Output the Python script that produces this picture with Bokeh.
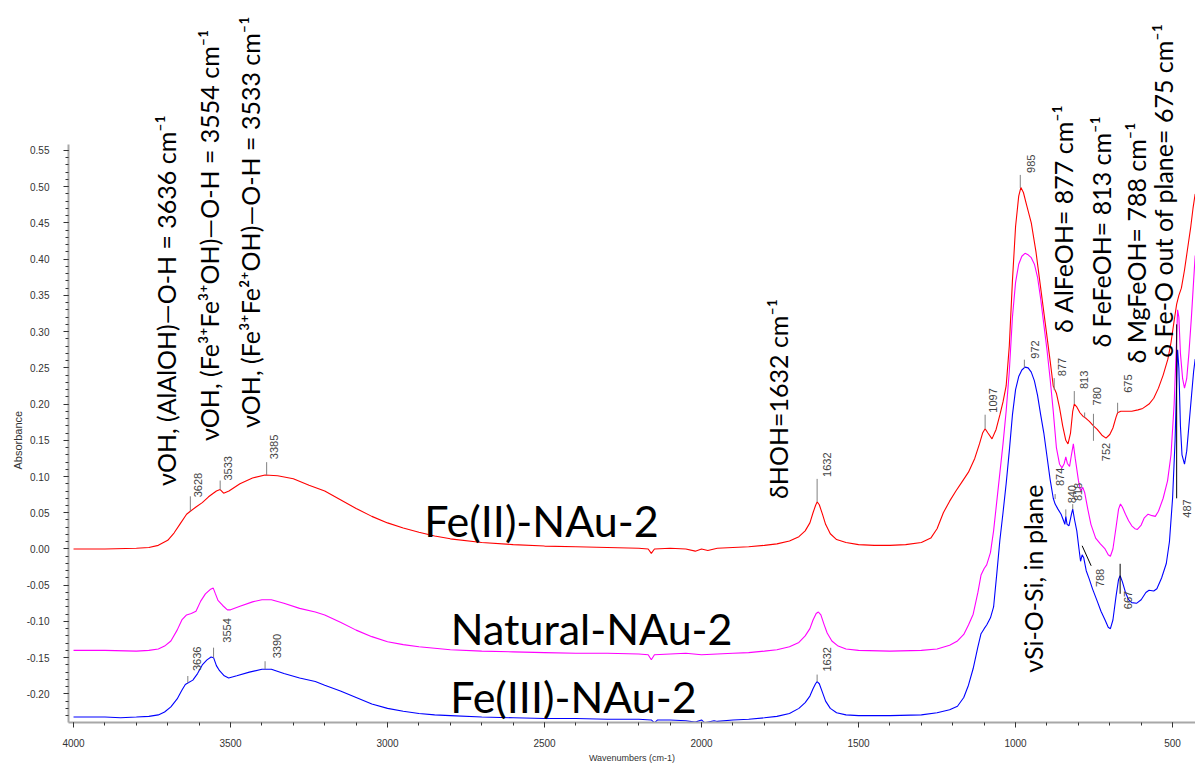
import numpy as np
from bokeh.plotting import figure
from bokeh.models import (Range1d, SingleIntervalTicker, NumeralTickFormatter,
                          ColumnDataSource, Title)
from bokeh.core.properties import value
from bokeh.embed import file_html
from bokeh.resources import INLINE

# ---------------------------------------------------------------- data
red_wn = [4000, 3900, 3800, 3760, 3730, 3700, 3680, 3660, 3640, 3628,
          3610, 3590, 3570, 3545, 3533, 3522, 3505, 3470, 3430, 3390,
          3350, 3300, 3250, 3200, 3150, 3100, 3050, 3000, 2950, 2900,
          2850, 2800, 2700, 2600, 2500, 2400, 2300, 2200, 2170, 2160,
          2150, 2100, 2050, 2020, 2000, 1980, 1950, 1900, 1850, 1800,
          1760, 1720, 1690, 1670, 1655, 1645, 1637, 1632, 1625, 1615,
          1605, 1590, 1570, 1540, 1500, 1450, 1400, 1350, 1300, 1270,
          1250, 1230, 1210, 1190, 1170, 1150, 1130, 1115, 1105, 1097,
          1088, 1075, 1062, 1050, 1040, 1030, 1020, 1010, 1000, 990,
          983, 975, 965, 950, 935, 920, 905, 890, 880, 877,
          870, 860, 850, 840, 833, 825, 818, 813, 805, 795,
          785, 775, 765, 752, 740, 725, 712, 700, 690, 680,
          675, 665, 650, 630, 610, 595, 575, 560, 545, 530,
          515, 505, 495, 487, 480, 472, 462, 452, 442, 435, 428]
red_abs = [0.000, 0.000, 0.001, 0.002, 0.005, 0.012, 0.022, 0.035, 0.048, 0.052,
           0.058, 0.064, 0.072, 0.080, 0.082, 0.077, 0.080, 0.090, 0.098, 0.102,
           0.101, 0.097, 0.088, 0.080, 0.068, 0.056, 0.045, 0.036, 0.029, 0.023,
           0.018, 0.014, 0.009, 0.006, 0.004, 0.003, 0.002, 0.001, 0.000, -0.006,
           0.000, 0.001, 0.000, -0.003, 0.000, -0.002, 0.001, 0.002, 0.003, 0.005,
           0.007, 0.011, 0.017, 0.025, 0.036, 0.050, 0.060, 0.065, 0.061, 0.048,
           0.034, 0.021, 0.013, 0.009, 0.006, 0.005, 0.005, 0.006, 0.009, 0.015,
           0.028, 0.050, 0.066, 0.080, 0.093, 0.106, 0.125, 0.145, 0.160, 0.166,
           0.160, 0.152, 0.165, 0.185, 0.203, 0.225, 0.280, 0.370, 0.445, 0.487,
           0.499, 0.492, 0.475, 0.450, 0.410, 0.360, 0.310, 0.260, 0.225, 0.222,
           0.215, 0.195, 0.170, 0.150, 0.145, 0.160, 0.190, 0.200, 0.196, 0.188,
           0.183, 0.180, 0.176, 0.170, 0.165, 0.157, 0.153, 0.158, 0.167, 0.182,
           0.188, 0.190, 0.190, 0.190, 0.192, 0.194, 0.200, 0.208, 0.222, 0.240,
           0.262, 0.285, 0.315, 0.338, 0.350, 0.360, 0.385, 0.415, 0.445, 0.470, 0.490]

nat_wn = [4000, 3900, 3800, 3760, 3730, 3710, 3690, 3670, 3655, 3640,
          3625, 3610, 3595, 3580, 3565, 3555, 3548, 3540, 3525, 3510,
          3500, 3470, 3430, 3400, 3370, 3330, 3280, 3230, 3200, 3150,
          3100, 3050, 3000, 2950, 2900, 2850, 2800, 2700, 2600, 2500,
          2400, 2300, 2200, 2170, 2160, 2150, 2100, 2050, 2000, 1950,
          1900, 1850, 1800, 1760, 1720, 1690, 1670, 1655, 1645, 1635,
          1628, 1620, 1610, 1600, 1585, 1565, 1540, 1500, 1400, 1300,
          1250, 1210, 1185, 1165, 1150, 1135, 1120, 1110, 1100, 1092,
          1080, 1070, 1060, 1050, 1040, 1030, 1020, 1010, 1000, 990,
          980, 970, 960, 950, 940, 930, 920, 910, 900, 890,
          880, 875, 870, 860, 852, 845, 840, 835, 828, 822,
          816, 810, 800, 793, 786, 780, 770, 760, 745, 730,
          715, 705, 698, 690, 680, 672, 666, 660, 650, 640,
          630, 620, 612, 600, 590, 578, 565, 555, 545, 530,
          516, 505, 495, 488, 484, 480, 475, 468, 462, 455,
          448, 440, 433, 428]
nat_abs = [-0.140, -0.140, -0.141, -0.140, -0.138, -0.134, -0.127, -0.112, -0.098, -0.091,
           -0.089, -0.086, -0.072, -0.062, -0.056, -0.054, -0.062, -0.071, -0.078, -0.084,
           -0.084, -0.079, -0.073, -0.070, -0.070, -0.075, -0.082, -0.087, -0.091, -0.101,
           -0.112, -0.121, -0.128, -0.132, -0.135, -0.137, -0.139, -0.141, -0.142, -0.143,
           -0.144, -0.144, -0.145, -0.146, -0.153, -0.146, -0.145, -0.144, -0.146, -0.145,
           -0.144, -0.143, -0.141, -0.139, -0.135, -0.129, -0.120, -0.110, -0.098, -0.089,
           -0.087, -0.091, -0.104, -0.116, -0.127, -0.134, -0.138, -0.140, -0.141, -0.140,
           -0.138, -0.133, -0.127, -0.118, -0.105, -0.090, -0.060, -0.036, -0.027, -0.022,
           -0.005, 0.025, 0.065, 0.105, 0.145, 0.190, 0.245, 0.320, 0.368, 0.393,
           0.404, 0.408, 0.406, 0.402, 0.393, 0.375, 0.345, 0.310, 0.275, 0.235,
           0.190, 0.165, 0.140, 0.117, 0.112, 0.118, 0.127, 0.118, 0.114, 0.130,
           0.145, 0.125, 0.095, 0.080, 0.085, 0.078, 0.055, 0.034, 0.015, 0.007,
           0.000, -0.008, -0.010, 0.000, 0.030, 0.055, 0.062, 0.058, 0.048, 0.039,
           0.032, 0.028, 0.027, 0.033, 0.043, 0.048, 0.046, 0.045, 0.052, 0.070,
           0.094, 0.130, 0.200, 0.280, 0.330, 0.320, 0.270, 0.235, 0.222, 0.235,
           0.270, 0.320, 0.370, 0.405]

ox_wn = [4000, 3900, 3850, 3800, 3760, 3730, 3710, 3690, 3670, 3655,
         3644, 3636, 3620, 3605, 3590, 3575, 3562, 3554, 3545, 3535,
         3520, 3506, 3480, 3440, 3400, 3370, 3330, 3280, 3230, 3200,
         3150, 3100, 3050, 3000, 2950, 2900, 2850, 2800, 2700, 2600,
         2500, 2400, 2300, 2200, 2160, 2150, 2140, 2100, 2050, 2020,
         2000, 1990, 1960, 1950, 1900, 1850, 1800, 1760, 1720, 1690,
         1670, 1655, 1645, 1637, 1632, 1625, 1615, 1605, 1590, 1570,
         1540, 1500, 1400, 1300, 1250, 1210, 1185, 1165, 1150, 1135,
         1120, 1110, 1100, 1092, 1080, 1070, 1060, 1050, 1040, 1030,
         1020, 1010, 1000, 990, 980, 970, 960, 950, 940, 930,
         920, 910, 900, 890, 880, 874, 865, 855, 848, 843,
         840, 836, 830, 822, 818, 812, 805, 798, 793, 788,
         783, 775, 765, 755, 740, 728, 715, 705, 698, 690,
         680, 672, 667, 660, 650, 640, 630, 615, 600, 585,
         575, 560, 550, 535, 520, 510, 500, 492, 487, 484,
         480, 475, 470, 462, 455, 448, 440, 433, 428]
ox_abs = [-0.232, -0.232, -0.233, -0.232, -0.231, -0.229, -0.225, -0.218, -0.207, -0.195,
          -0.187, -0.185, -0.181, -0.172, -0.160, -0.153, -0.149, -0.150, -0.161, -0.168,
          -0.175, -0.178, -0.175, -0.170, -0.166, -0.166, -0.172, -0.178, -0.183, -0.188,
          -0.196, -0.205, -0.214, -0.220, -0.224, -0.227, -0.229, -0.230, -0.232, -0.233,
          -0.234, -0.234, -0.235, -0.235, -0.236, -0.240, -0.236, -0.236, -0.237, -0.239,
          -0.236, -0.240, -0.237, -0.238, -0.236, -0.235, -0.233, -0.231, -0.227, -0.220,
          -0.212, -0.203, -0.193, -0.186, -0.183, -0.186, -0.198, -0.210, -0.220, -0.226,
          -0.229, -0.230, -0.230, -0.229, -0.226, -0.222, -0.217, -0.205, -0.188, -0.165,
          -0.135, -0.117, -0.110, -0.105, -0.095, -0.080, -0.035, 0.012, 0.050, 0.090,
          0.135, 0.185, 0.220, 0.238, 0.247, 0.251, 0.250, 0.244, 0.232, 0.212,
          0.185, 0.160, 0.128, 0.096, 0.070, 0.062, 0.055, 0.048, 0.040, 0.034,
          0.045, 0.034, 0.032, 0.048, 0.055, 0.040, 0.025, 0.000, -0.017, -0.008,
          -0.012, -0.030, -0.042, -0.055, -0.072, -0.086, -0.098, -0.108, -0.110, -0.098,
          -0.065, -0.042, -0.037, -0.045, -0.060, -0.070, -0.074, -0.075, -0.070, -0.060,
          -0.057, -0.058, -0.055, -0.040, -0.020, 0.010, 0.070, 0.150, 0.230, 0.275,
          0.250, 0.170, 0.130, 0.117, 0.135, 0.170, 0.210, 0.245, 0.262]

sample_names = ["Fe(II)-NAu-2", "Natural-NAu-2", "Fe(III)-NAu-2"]
sample_colors = ["#ff0000", "#ff00ff", "#0000ff"]

red_peaks = [3628, 3533, 3385, 1632, 1097, 985, 877, 813, 780, 752, 675]
ox_peaks = [3636, 3554, 3390, 1632, 972, 874, 840, 818, 788, 667, 487]

band_texts = [
    "νOH, (AlAlOH)—O-H = 3636 cm⁻¹",
    "νOH, (Fe³⁺Fe³⁺OH)—O-H  = 3554 cm⁻¹",
    "νOH, (Fe³⁺Fe²⁺OH)—O-H = 3533 cm⁻¹",
    "δHOH=1632 cm⁻¹",
    "δ AlFeOH= 877 cm⁻¹",
    "δ FeFeOH= 813 cm⁻¹",
    "δ MgFeOH= 788 cm⁻¹",
    "δ Fe-O out of plane= 675 cm⁻¹",
    "νSi-O-Si, in plane",
]

x_tick_step = 500
y_tick_step = 0.05

# ---------------------------------------------------------------- layout
W, H = 1195, 765
LEFT, BOTTOM = 68, 43
FRAME_W, FRAME_H = W - LEFT, H - BOTTOM
X0, X1 = 4016, 427
Y0, Y1 = -0.2395, 0.757
WPX = (X0 - X1) / FRAME_W      # wavenumber per pixel
APX = (Y1 - Y0) / FRAME_H      # absorbance per pixel

p = figure(width=W, height=H, x_range=Range1d(X0, X1), y_range=Range1d(Y0, Y1),
           output_backend="svg", toolbar_location=None,
           min_border_left=LEFT, min_border_right=0, min_border_top=0,
           min_border_bottom=BOTTOM)
p.outline_line_color = None
p.xgrid.visible = False
p.ygrid.visible = False
p.background_fill_color = "white"
p.border_fill_color = "white"

p.xaxis.ticker = SingleIntervalTicker(interval=x_tick_step, num_minor_ticks=5)
p.yaxis.ticker = SingleIntervalTicker(interval=y_tick_step, num_minor_ticks=5)
p.yaxis.formatter = NumeralTickFormatter(format="0.00")
p.yaxis.bounds = (Y0, 0.558)
for ax in (p.xaxis, p.yaxis):
    ax.axis_line_color = "#a8a8a8"
    ax.axis_line_width = 2
    ax.major_tick_line_color = "#333333"
    ax.minor_tick_line_color = "#333333"
    ax.major_tick_in = 0
    ax.major_tick_out = 5
    ax.minor_tick_in = 0
    ax.minor_tick_out = 3
    ax.major_label_text_font = "Liberation Sans"
    ax.major_label_text_font_size = "10px"
    ax.major_label_text_color = "#333333"
p.xaxis.major_label_standoff = 11
p.yaxis.major_label_standoff = 14
p.xaxis.axis_label = "Wavenumbers (cm-1)"
p.xaxis.axis_label_text_font = "Liberation Sans"
p.xaxis.axis_label_text_font_size = "9px"
p.xaxis.axis_label_text_font_style = "normal"
p.xaxis.axis_label_text_color = "#333333"
p.xaxis.axis_label_standoff = 3

p.add_layout(Title(text="Absorbance", align="left", offset=253,
                   text_font="Liberation Sans", text_font_size="11px",
                   text_font_style="normal", text_color="#333333",
                   standoff=0), "left")

series = [(red_wn, red_abs), (nat_wn, nat_abs), (ox_wn, ox_abs)]
for (wn, ab), col in zip(series, sample_colors):
    p.line(wn, ab, line_color=col, line_width=1.1)

# ---------------------------------------------------------------- peak labels
def curve_at(wn, ab, w):
    return float(np.interp(w, wn[::-1], ab[::-1]))

# per-peak pixel offsets: (marker start, marker end, label anchor, label dx, colour, slant)
red_layout = {
    3628: (0, 15, 14, 8, "#808080", 0), 3533: (0, 9, 9, 8, "#808080", 0),
    3385: (0, 13, 16, 7, "#808080", 0), 1632: (0, 23, 25, 10, "#808080", 0),
    1097: (0, 14, 16, 8, "#808080", 0), 985: (2, 15, 17, 11, "#808080", 0),
    877: (-2, 10, 12, 8, "#808080", 0), 813: (0, 13, 15, 10, "#808080", 0),
    780: (0, 5, 12, 12, "#808080", 0), 752: (-15, 12, -17, 13, "#808080", 0),
    675: (0, 10, 20, 10, "#808080", 0),
}
ox_layout = {
    3636: (0, 7, 12, 9, "#808080", 0), 3554: (0, 10, 15, 13, "#808080", 0),
    3390: (0, 8, 11, 12, "#808080", 0), 1632: (0, 7, 10, 10, "#808080", 0),
    972: (0, 8, 9, 11, "#808080", 0), 874: (5, 10, 18, 5, "#808080", 0),
    840: (0, 7, 13, 6, "#808080", 0), 818: (0, 5, 8, 5, "#808080", 0),
    788: (9, -11, -14, 18, "#000000", 9), 667: (-18, 12, -15, 8, "#000000", 0),
    487: (-116, 58, -117, 10, "#000000", 0),
}

seg = dict(x0=[], y0=[], x1=[], y1=[], c=[])
up = dict(x=[], y=[], t=[])
down = dict(x=[], y=[], t=[])
for (wn, ab), peaks, lay in ((series[0], red_peaks, red_layout),
                             (series[2], ox_peaks, ox_layout)):
    for w in peaks:
        m0, m1, lab, dx, col, slant = lay[w]
        base = curve_at(wn, ab, w)
        seg["x0"].append(w)
        seg["y0"].append(base + m0 * APX)
        seg["x1"].append(w - slant * WPX)
        seg["y1"].append(base + m1 * APX)
        seg["c"].append(col)
        tgt = up if lab >= 0 else down
        tgt["x"].append(w - dx * WPX)
        tgt["y"].append(base + lab * APX)
        tgt["t"].append(str(w))

p.segment("x0", "y0", "x1", "y1", source=ColumnDataSource(seg),
          line_color="c", line_width=1)
p.text("x", "y", text="t", source=ColumnDataSource(up), angle=np.pi / 2,
       text_align="left", text_baseline="middle", text_font=value("Liberation Sans"),
       text_font_size="11px", text_color="#444444")
p.text("x", "y", text="t", source=ColumnDataSource(down), angle=np.pi / 2,
       text_align="right", text_baseline="middle", text_font=value("Liberation Sans"),
       text_font_size="11px", text_color="#444444")

# ---------------------------------------------------------------- band assignments
band_x = [3707, 3570, 3437, 1755, 850, 729, 618, 529, 946]
band_y = [0.087, 0.149, 0.167, 0.069, 0.298, 0.278, 0.256, 0.264, -0.171]
p.text(band_x, band_y, text=band_texts, angle=np.pi / 2, text_align="left",
       text_baseline="middle", text_font=value("Lato"), text_font_size="25px",
       text_color="black")

name_x = [2510, 2350, 2408]
name_y = [0.039, -0.110, -0.204]
p.text(name_x, name_y, text=sample_names, text_align="center", text_baseline="middle",
       text_font=value("Lato"), text_font_size="43px", text_color="black")

open("out.html", "w").write(file_html(p, INLINE))
